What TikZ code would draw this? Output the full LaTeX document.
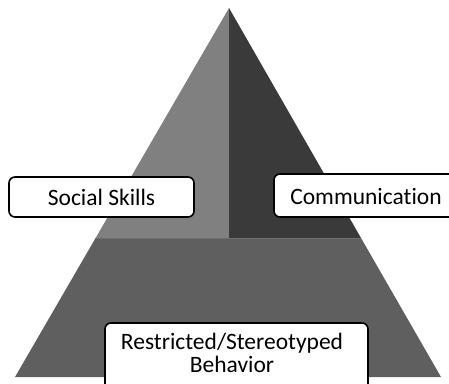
\documentclass[tikz,border=0pt]{standalone}
\usepackage{fontspec}
\setmainfont{Carlito}[Ligatures={NoCommon,NoContextual}]
\definecolor{lightseg}{HTML}{808080}
\definecolor{darkseg}{HTML}{3A3A3A}
\definecolor{baseseg}{HTML}{5F5F5F}
\definecolor{seam}{HTML}{6E6E6E}
\tikzset{
  labelbox/.style={draw=black, line width=1.6pt, fill=white, rounded corners=6pt},
  labeltext/.style={font=\fontsize{23.5}{23}\selectfont, text=black, align=center, inner sep=0pt}
}
\begin{document}
\begin{tikzpicture}[x=1pt,y=-1pt]
\useasboundingbox (0,0) rectangle (449,383);
\clip (0,0) rectangle (449,383);
% pyramid
\coordinate (apex) at (229,8);
\coordinate (bl) at (15,377);
\coordinate (br) at (441,377);
\coordinate (ml) at (95.6,238);
\coordinate (mr) at (361,238);
\coordinate (mc) at (229,238);
\fill[baseseg] (ml) -- (mr) -- (br) -- (bl) -- cycle;
\fill[lightseg] (apex) -- (mc) -- (ml) -- cycle;
\fill[darkseg] (apex) -- (mr) -- (mc) -- cycle;
\draw[seam, line width=1pt] (ml) -- (mr);
% boxes
\draw[labelbox] (9,177) rectangle (194,217);
\draw[labelbox] (274,174) rectangle (480,217);
\draw[labelbox] (105,323) rectangle (368,410);
\node[labeltext] (social) at (101.5,197) {Social Skills};
\node[labeltext] (comm) at (366,196) {Communication};
\node[labeltext] (restr) at (232,353) {Restricted/Stereotyped\\Behavior};
\end{tikzpicture}
\end{document}
